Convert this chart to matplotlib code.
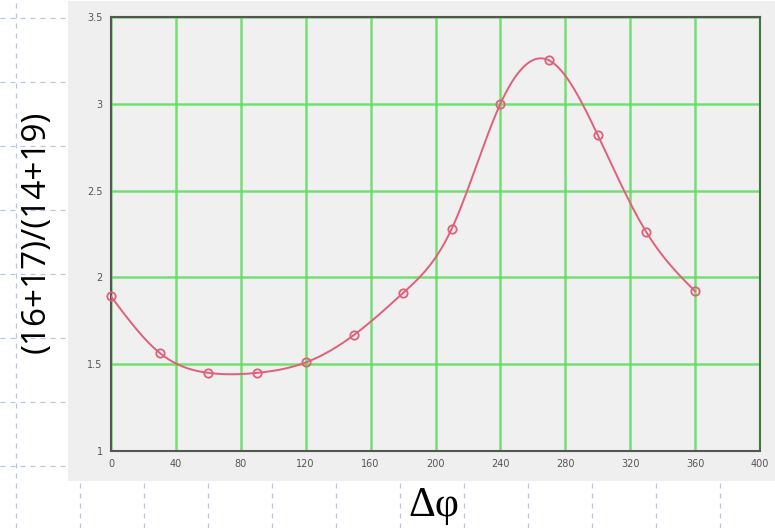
import numpy as np
import matplotlib.pyplot as plt
from matplotlib.lines import Line2D
from matplotlib.patches import Rectangle

# data
dphi = [0, 30, 60, 90, 120, 150, 180, 210, 240, 270, 300, 330, 360]
ratio = [1.89, 1.565, 1.45, 1.45, 1.51, 1.67, 1.91, 2.28, 3.0, 3.25, 2.82, 2.26, 1.92]
xticks = [0, 40, 80, 120, 160, 200, 240, 280, 320, 360, 400]
yticks = [1, 1.5, 2, 2.5, 3, 3.5]
ytick_labels = ['1', '1.5', '2', '2.5', '3', '3.5']

W, H = 775, 528


def spline(x, y, n=400):
    # natural cubic spline through the points
    x = np.asarray(x, float)
    y = np.asarray(y, float)
    h = np.diff(x)
    m = len(x)
    A = np.zeros((m, m))
    b = np.zeros(m)
    A[0, 0] = A[-1, -1] = 1
    for i in range(1, m - 1):
        A[i, i - 1] = h[i - 1]
        A[i, i] = 2 * (h[i - 1] + h[i])
        A[i, i + 1] = h[i]
        b[i] = 6 * ((y[i + 1] - y[i]) / h[i] - (y[i] - y[i - 1]) / h[i - 1])
    M = np.linalg.solve(A, b)
    xs = np.linspace(x[0], x[-1], n)
    k = np.clip(np.searchsorted(x, xs) - 1, 0, m - 2)
    t0 = x[k + 1] - xs
    t1 = xs - x[k]
    hk = h[k]
    ys = (M[k] * t0 ** 3 + M[k + 1] * t1 ** 3) / (6 * hk) \
        + (y[k] / hk - M[k] * hk / 6) * t0 + (y[k + 1] / hk - M[k + 1] * hk / 6) * t1
    return xs, ys


fig = plt.figure(figsize=(W / 100, H / 100), dpi=100)
fig.patch.set_facecolor('white')

# slide background dashed grid
for px in range(16, W, 64):
    fig.add_artist(Line2D([px / W, px / W], [0, 1], transform=fig.transFigure,
                          color='#b8c4ee', lw=0.9, ls=(0, (4, 4)), zorder=0))
for py in range(18, H, 64):
    fig.add_artist(Line2D([0, 1], [1 - py / H, 1 - py / H], transform=fig.transFigure,
                          color='#b8c4ee', lw=0.9, ls=(0, (4, 4)), zorder=0))

# grey picture panel
fig.add_artist(Rectangle((68 / W, 1 - 481 / H), (W - 68) / W, 480 / H,
                         transform=fig.transFigure, facecolor='#efefef',
                         edgecolor='none', zorder=1))

ax = fig.add_axes([111 / W, 1 - 451 / H, (760 - 111) / W, (451 - 17) / H], zorder=2)
ax.set_facecolor('#f0f0f0')
ax.set_xlim(0, 400)
ax.set_ylim(1, 3.5)
ax.set_xticks(xticks)
ax.set_yticks(yticks)
ax.set_yticklabels(ytick_labels)
ax.grid(True, color='#5ddc5d', lw=1.8, alpha=0.85)
ax.set_axisbelow(True)
ax.tick_params(length=0, labelsize=7, colors='#555555', pad=6)
for s in ax.spines.values():
    s.set_color('#555555')
    s.set_linewidth(1.5)
ax.spines['right'].set_color('#3c7a3c')

xs, ys = spline(dphi, ratio)
ax.plot(xs, ys, color='#e0607a', lw=1.4, zorder=3)
ax.plot(dphi, ratio, ls='none', marker='o', ms=6, mfc='none', mec='#e0607a',
        mew=1.3, zorder=4, clip_on=False)

fig.text(36 / W, 1 - 232 / H, '(16+17)/(14+19)', rotation=90, ha='center',
         va='center', fontsize=24, family='Open Sans', color='black')
fig.text(434 / W, 1 - 506 / H, 'Δφ', ha='center', va='center', fontsize=30,
         family='Liberation Serif', color='black')

fig.savefig('out.png', dpi=100)
